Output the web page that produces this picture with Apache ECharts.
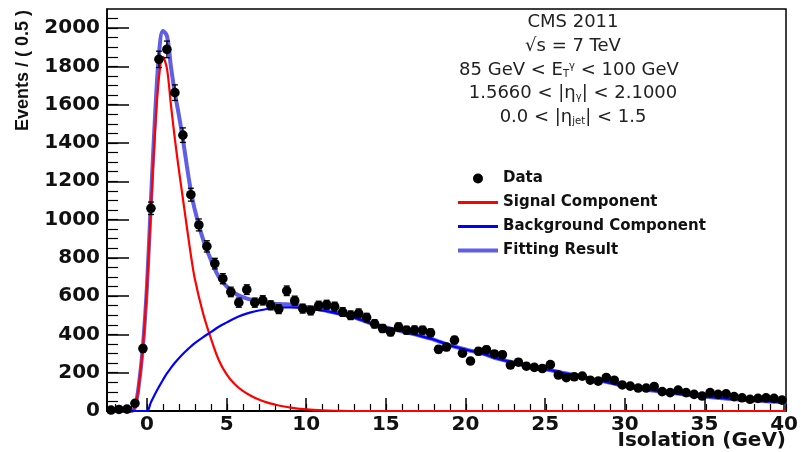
<!DOCTYPE html>
<html>
<head>
<meta charset="utf-8">
<script src="https://cdn.jsdelivr.net/npm/echarts@6/dist/echarts.min.js"></script>
<style>html,body{margin:0;padding:0;background:#fff}#c{width:801px;height:452px}</style>
</head>
<body>
<div id="c"></div>
<script>
// ---- data ----
const isoBins = [-2.25,-1.75,-1.25,-0.75,-0.25,0.25,0.75,1.25,1.75,2.25,2.75,3.25,3.75,4.25,4.75,5.25,5.75,6.25,6.75,7.25,7.75,8.25,8.75,9.25,9.75,10.25,10.75,11.25,11.75,12.25,12.75,13.25,13.75,14.25,14.75,15.25,15.75,16.25,16.75,17.25,17.75,18.25,18.75,19.25,19.75,20.25,20.75,21.25,21.75,22.25,22.75,23.25,23.75,24.25,24.75,25.25,25.75,26.25,26.75,27.25,27.75,28.25,28.75,29.25,29.75,30.25,30.75,31.25,31.75,32.25,32.75,33.25,33.75,34.25,34.75,35.25,35.75,36.25,36.75,37.25,37.75,38.25,38.75,39.25,39.75];
const eventCounts = [5,8,10,40,326,1059,1837,1889,1663,1441,1130,972,860,770,691,622,566,634,566,578,552,532,628,576,535,525,550,555,545,517,500,510,488,455,431,413,439,422,423,422,408,322,334,370,302,261,312,320,298,294,240,255,234,228,222,242,188,174,179,182,161,156,175,161,136,130,120,120,128,101,96,109,96,87,78,96,87,90,75,69,61,66,69,66,57];

const curveX = [-2.5,-1.5,-1.0,-0.75,-0.5,-0.25,0,0.25,0.5,0.75,1.0,1.25,1.5,1.75,2.0,2.25,2.5,2.75,3.0,3.5,4.0,4.5,5.0,5.5,6.0,6.5,7.0,7.5,8.0,8.5,9.0,10,11,12,13,14,15,16,17,18,19,20,21,22,23,24,25,26,27,28,29,30,31,32,33,34,35,36,37,38,39,40];
const signalCurve = [0,0,0,20,140,340,650,1060,1450,1740,1850,1790,1600,1420,1260,1110,960,815,690,515,380,265,190,140,105,80,60,45,34,25,18,8,3,1,0,0,0,0,0,0,0,0,0,0,0,0,0,0,0,0,0,0,0,0,0,0,0,0,0,0,0,0];
const backgroundCurve = [0,0,0,0,0,0,0,45,88,126,162,196,225,252,276,298,318,337,355,385,412,440,463,485,502,515,525,533,538,541,541,535,525,508,488,458,436,415,395,372,342,320,300,272,252,230,217,200,183,165,147,128,115,103,92,83,75,67,60,55,50,45];
const fitCurve = [0,0,0,20,140,340,650,1100,1530,1860,1985,1960,1800,1660,1545,1420,1280,1150,1050,900,790,700,650,615,595,582,573,565,560,558,556,543,528,509,488,458,436,415,395,372,342,320,300,272,252,230,217,200,183,165,147,128,115,103,92,83,75,67,60,55,50,45];

const xTickLabels = [0,5,10,15,20,25,30,35,40];
const yTickLabels = [0,200,400,600,800,1000,1200,1400,1600,1800,2000];

const pts = isoBins.map((x, i) => [x, eventCounts[i], Math.sqrt(eventCounts[i])]);
const zip = arr => curveX.map((x, i) => [x, arr[i]]);

// layout of the plot frame
const L = 107, R = 15, T = 9, B = 41;
const W = 801 - L - R, H = 452 - T - B;
const X0 = -2.5, X1 = 40, Y1 = 2100;
const px = v => L + (v - X0) / (X1 - X0) * W;   // left offsets of tick grids
const py = v => T + (Y1 - v) / Y1 * H;

const chart = echarts.init(document.getElementById('c'), null, {renderer: 'canvas'});
const lblFont = {fontFamily: 'DejaVu Sans', fontWeight: 'bold', fontSize: 20, color: '#111'};
const txt = {fontFamily: 'DejaVu Sans', fontSize: 18, fill: '#222'};
const tickLine = w => ({color: '#000', width: w});
const hidden = (gi) => ({gridIndex: gi, type: 'value', show: false, min: 0, max: 1});

chart.setOption({
  animation: false,
  backgroundColor: '#fff',
  grid: [
    {left: L, right: R, top: T, bottom: B, show: true, borderColor: '#000', borderWidth: 1.5, backgroundColor: 'transparent'},
    {left: px(0), right: R, top: T, bottom: B},
    {left: px(-2), right: R, top: T, bottom: B},
    {left: L, right: R, top: py(2000), bottom: B},
    {left: L, right: R, top: py(2050), bottom: B}
  ],
  xAxis: [
    {gridIndex: 0, type: 'value', min: X0, max: X1,
     axisLine: {show: true, onZero: false, lineStyle: tickLine(1.5)},
     axisTick: {show: false}, axisLabel: {show: false}, splitLine: {show: false}},
    {gridIndex: 1, type: 'value', min: 0, max: 40, interval: 5,
     axisLine: {show: true, onZero: false, lineStyle: tickLine(1.5)},
     axisTick: {show: true, inside: true, length: 13, lineStyle: tickLine(1.5)},
     axisLabel: {show: true, margin: 4, formatter: v => xTickLabels.includes(v) ? String(v) : '', ...lblFont},
     splitLine: {show: false}, minorTick: {show: false}},
    {gridIndex: 2, type: 'value', min: -2, max: 40, interval: 1,
     axisLine: {show: true, onZero: false, lineStyle: tickLine(1.5)},
     axisTick: {show: true, inside: true, length: 7, lineStyle: tickLine(1.2)},
     axisLabel: {show: false}, splitLine: {show: false}, minorTick: {show: false}},
    hidden(3), hidden(4)
  ],
  yAxis: [
    {gridIndex: 0, type: 'value', min: 0, max: Y1,
     axisLine: {show: true, onZero: false, lineStyle: tickLine(1.5)},
     axisTick: {show: false}, axisLabel: {show: false}, splitLine: {show: false}},
    hidden(1), hidden(2),
    {gridIndex: 3, type: 'value', min: 0, max: 2000, interval: 200,
     axisLine: {show: true, onZero: false, lineStyle: tickLine(1.5)},
     axisTick: {show: true, inside: true, length: 22, lineStyle: tickLine(1.5)},
     axisLabel: {show: true, margin: 7, formatter: v => yTickLabels.includes(v) ? String(v) : '', ...lblFont},
     splitLine: {show: false}, minorTick: {show: false}},
    {gridIndex: 4, type: 'value', min: 0, max: 2050, interval: 50,
     axisLine: {show: true, onZero: false, lineStyle: tickLine(1.5)},
     axisTick: {show: true, inside: true, length: 11, lineStyle: tickLine(1.2)},
     axisLabel: {show: false}, splitLine: {show: false}, minorTick: {show: false}}
  ],
  legend: {
    orient: 'vertical', left: 453, top: 166, itemWidth: 40, itemHeight: 10, itemGap: 9,
    textStyle: {fontFamily: 'DejaVu Sans', fontWeight: 'bold', fontSize: 15, color: '#111'},
    data: [
      {name: 'Data', icon: 'circle'},
      {name: 'Signal Component', icon: 'path://M0,0H40V3H0Z'},
      {name: 'Background Component', icon: 'path://M0,0H40V3H0Z'},
      {name: 'Fitting Result', icon: 'path://M0,0H40V4H0Z'}
    ]
  },
  series: [
    {name: 'Fitting Result', type: 'line', data: zip(fitCurve), smooth: 0.35, showSymbol: false, symbol: 'none',
     lineStyle: {color: '#5e5ee6', width: 4}, itemStyle: {color: '#5e5ee6'}, z: 2},
    {name: 'Signal Component', type: 'line', data: zip(signalCurve), smooth: 0.35, showSymbol: false, symbol: 'none',
     lineStyle: {color: '#ff0000', width: 2.2}, itemStyle: {color: '#ff0000'}, z: 3},
    {name: 'Background Component', type: 'line', data: zip(backgroundCurve), smooth: 0.35, showSymbol: false, symbol: 'none',
     lineStyle: {color: '#0000ff', width: 2.2}, itemStyle: {color: '#0000ff'}, z: 3},
    {name: 'Data', type: 'custom', data: pts, z: 4,
     renderItem: function (params, api) {
       const x = api.value(0), y = api.value(1), e = api.value(2);
       const p = api.coord([x, y]);
       const t = api.coord([x, y + e]);
       const b = api.coord([x, Math.max(0, y - e)]);
       const l = api.coord([x - 0.25, y]);
       const r = api.coord([x + 0.25, y]);
       const st = {stroke: '#000', lineWidth: 1.3};
       return {type: 'group', children: [
         {type: 'line', shape: {x1: p[0], y1: t[1], x2: p[0], y2: b[1]}, style: st},
         {type: 'line', shape: {x1: l[0], y1: p[1], x2: r[0], y2: p[1]}, style: st},
         {type: 'line', shape: {x1: p[0] - 3, y1: t[1], x2: p[0] + 3, y2: t[1]}, style: st},
         {type: 'line', shape: {x1: p[0] - 3, y1: b[1], x2: p[0] + 3, y2: b[1]}, style: st},
         {type: 'circle', shape: {cx: p[0], cy: p[1], r: 4.8}, style: {fill: '#000'}}
       ]};
     },
     itemStyle: {color: '#000'}}
  ],
  graphic: [
    {type: 'text', x: 573, y: 22, style: {...txt, text: 'CMS 2011', align: 'center', verticalAlign: 'middle'}},
    {type: 'text', x: 573, y: 46, style: {...txt, text: '√s = 7 TeV', align: 'center', verticalAlign: 'middle'}},
    {type: 'text', x: 569, y: 70, style: {...txt, text: '85 GeV < E{sub|T}{sup|γ} < 100 GeV', align: 'center', verticalAlign: 'middle',
      rich: {sub: {fontFamily: 'DejaVu Sans', fontSize: 10, fill: '#222', verticalAlign: 'bottom'},
             sup: {fontFamily: 'DejaVu Sans', fontSize: 10, fill: '#222', verticalAlign: 'top'}}}},
    {type: 'text', x: 573, y: 93, style: {...txt, text: '1.5660 < |η{sub|γ}| < 2.1000', align: 'center', verticalAlign: 'middle',
      rich: {sub: {fontFamily: 'DejaVu Sans', fontSize: 10, fill: '#222', verticalAlign: 'bottom'}}}},
    {type: 'text', x: 573, y: 117, style: {...txt, text: '0.0 < |η{sub|jet}| < 1.5', align: 'center', verticalAlign: 'middle',
      rich: {sub: {fontFamily: 'DejaVu Sans', fontSize: 10, fill: '#222', verticalAlign: 'bottom'}}}},
    {type: 'text', x: 786, y: 441, style: {text: 'Isolation (GeV)', fontFamily: 'DejaVu Sans', fontWeight: 'bold', fontSize: 20, fill: '#111', align: 'right', verticalAlign: 'middle'}},
    {type: 'text', x: 23, y: 10, rotation: Math.PI / 2, style: {text: 'Events / ( 0.5 )', fontFamily: 'Liberation Sans', fontWeight: 'bold', fontSize: 18, fill: '#111', align: 'right', verticalAlign: 'middle'}}
  ]
});
</script>
</body>
</html>
